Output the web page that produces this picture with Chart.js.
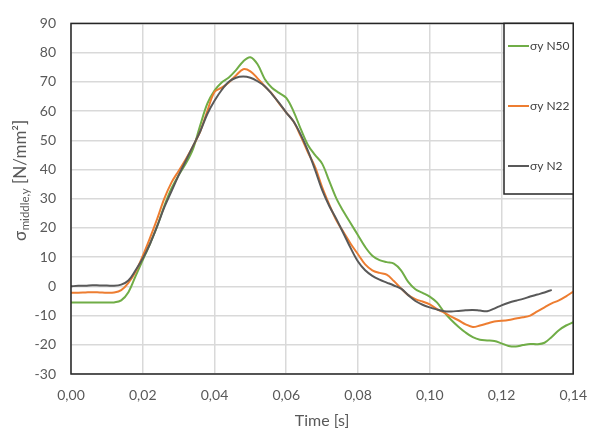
<!DOCTYPE html>
<html>
<head>
<meta charset="utf-8">
<script src="https://cdn.jsdelivr.net/npm/chart.js@4"></script>
<style>
html,body{margin:0;padding:0;background:#fff;}
#c{display:block;}
</style>
</head>
<body>
<canvas id="c" width="600" height="441"></canvas>
<script>
const times = [0.000,0.002,0.004,0.006,0.008,0.010,0.012,0.014,0.016,0.018,
0.020,0.022,0.024,0.026,0.028,0.030,0.032,0.034,0.036,0.038,
0.040,0.042,0.044,0.046,0.048,0.050,0.052,0.054,0.056,0.058,
0.060,0.062,0.064,0.066,0.068,0.070,0.072,0.074,0.076,0.078,
0.080,0.082,0.084,0.086,0.088,0.090,0.092,0.094,0.096,0.098,
0.100,0.102,0.104,0.106,0.108,0.110,0.112,0.114,0.116,0.118,
0.120,0.122,0.124,0.126,0.128,0.130,0.132,0.134,0.136,0.138,0.140];

const sigmaN50 = [-5.5,-5.5,-5.5,-5.5,-5.5,-5.5,-5.5,-4.8,-2.0,3.5,
9.0,14.5,20.5,27.5,33.5,38,42,47,55,62.5,
67,69.8,71.5,74,77,78.4,76,71,68,66.2,
64.5,60,54,48.5,45,42,36,30,25.5,21.5,
17.5,13.5,10.5,9.0,8.3,7.8,5.5,1.5,-1.0,-2.2,
-3.5,-5.5,-8.8,-11.5,-13.8,-15.8,-17.4,-18.3,-18.5,-18.7,
-19.5,-20.4,-20.6,-20.1,-19.7,-19.8,-19.3,-17.3,-15.0,-13.4,-12.3];

const sigmaN22 = [-2.2,-2.2,-2.1,-2.0,-2.1,-2.2,-2.1,-1.3,1.2,5.0,
10.4,16.5,23,30,35.5,39.5,43.5,48,53,60,
66.5,68,69.8,72.2,74.3,73.6,71.2,68.5,66,62.6,
59.5,56.5,51.5,46,41,34,28,22.5,18.5,14.5,
11,7.5,5.5,4.6,4.0,1.8,-0.7,-3.0,-4.4,-5.2,
-6.2,-7.8,-9.0,-10.4,-11.6,-13.0,-13.9,-13.4,-12.7,-12.0,
-11.8,-11.5,-11.0,-10.6,-10.0,-8.6,-7.2,-5.8,-4.8,-3.4,-1.8];

const sigmaN2 = [0.0,0.2,0.2,0.4,0.3,0.3,0.2,0.6,2.0,5.5,
9.5,14.5,20.5,27,32.5,38,43,48,53,59,
63.5,67.2,70,71.4,71.8,71.4,70.2,68.5,65.8,62.8,
59.5,56.5,52,46.5,40,33,27.5,23,18,13,
8.5,5.5,3.6,2.3,1.3,0.3,-0.8,-3.0,-5.0,-6.3,
-7.2,-7.9,-8.5,-8.6,-8.4,-8.2,-8.1,-8.3,-8.5,-7.6,
-6.5,-5.6,-4.9,-4.3,-3.5,-2.8,-2.1,-1.2,null,null,null];

const seriesNames = ['σy N50','σy N22','σy N2'];
const seriesColors = ['#70AD47','#ED7D31','#595959'];
const xTitle = 'Time [s]';
const yTitleMain = 'σ';
const yTitleSub = 'middle,y';
const yTitleRest = ' [N/mm²]';

function pts(vals){ return times.map((t,i)=>({x:t,y:vals[i]})); }

const PLOT = {left:71, right:577, top:16, bottom:374};

const customPlugin = {
  id:'custom',
  afterDatasetsDraw(chart){
    const ctx = chart.ctx;
    const a = chart.chartArea;
    ctx.save();
    // plot border
    ctx.strokeStyle = '#262626';
    ctx.lineWidth = 1.5;
    ctx.strokeRect(a.left, a.top, a.right-a.left, a.bottom-a.top);
    // legend box
    const lx = 504, ly = a.top, lw = a.right-504, lh = 194-a.top;
    ctx.fillStyle = '#fff';
    ctx.fillRect(lx, ly, lw, lh);
    ctx.strokeRect(lx, ly, lw, lh);
    const ys = [46,106,166];
    ctx.font = '12px Lato';
    ctx.textBaseline = 'middle';
    ctx.textAlign = 'left';
    for(let i=0;i<3;i++){
      ctx.strokeStyle = seriesColors[i];
      ctx.lineWidth = 2;
      ctx.beginPath();
      ctx.moveTo(508, ys[i]); ctx.lineTo(529, ys[i]); ctx.stroke();
      ctx.fillStyle = '#404040';
      ctx.fillText(seriesNames[i], 530, ys[i]+0.5);
    }
    // x title
    ctx.fillStyle = '#595959';
    ctx.font = '16px Lato';
    ctx.textAlign = 'center';
    ctx.fillText(xTitle, (a.left+a.right)/2, 421);
    // y title rotated with subscript
    ctx.translate(26, 241);
    ctx.rotate(-Math.PI/2);
    ctx.textAlign = 'left';
    ctx.textBaseline = 'alphabetic';
    ctx.font = '17px Lato';
    ctx.fillText(yTitleMain, 0, 0);
    let w = ctx.measureText(yTitleMain).width;
    ctx.font = '11.5px Lato';
    ctx.fillText(yTitleSub, w+0.5, 3);
    w += ctx.measureText(yTitleSub).width + 0.5;
    ctx.font = '17px Lato';
    ctx.fillText(yTitleRest, w, 0);
    ctx.restore();
  }
};

new Chart(document.getElementById('c'), {
  type:'line',
  data:{
    datasets:[
      {label:seriesNames[0], data:pts(sigmaN50), borderColor:seriesColors[0], order:3},
      {label:seriesNames[1], data:pts(sigmaN22), borderColor:seriesColors[1], order:2},
      {label:seriesNames[2], data:pts(sigmaN2), borderColor:seriesColors[2], order:1}
    ]
  },
  options:{
    responsive:false,
    animation:false,
    devicePixelRatio:1,
    layout:{padding:{left:0, right:600-PLOT.right, top:PLOT.top, bottom:0}},
    elements:{
      line:{borderWidth:2, tension:0.35, fill:false},
      point:{radius:0}
    },
    plugins:{legend:{display:false}, tooltip:{enabled:false}},
    scales:{
      x:{
        type:'linear', min:0, max:0.14,
        afterFit(s){ s.height = 441 - PLOT.bottom; },
        grid:{color:'#d9d9d9', lineWidth:1.5, drawTicks:false},
        border:{display:false},
        ticks:{stepSize:0.02, padding:13, color:'#595959', font:{family:'Lato', size:14},
          maxRotation:0, autoSkip:false,
          callback:(v)=>v.toFixed(2).replace('.',',')}
      },
      y:{
        min:-30, max:90,
        afterFit(s){ s.width = PLOT.left; },
        grid:{color:'#d9d9d9', lineWidth:1.5, drawTicks:false},
        border:{display:false},
        ticks:{stepSize:10, padding:15, color:'#595959', font:{family:'Lato', size:14}}
      }
    }
  },
  plugins:[customPlugin]
});
</script>
</body>
</html>
